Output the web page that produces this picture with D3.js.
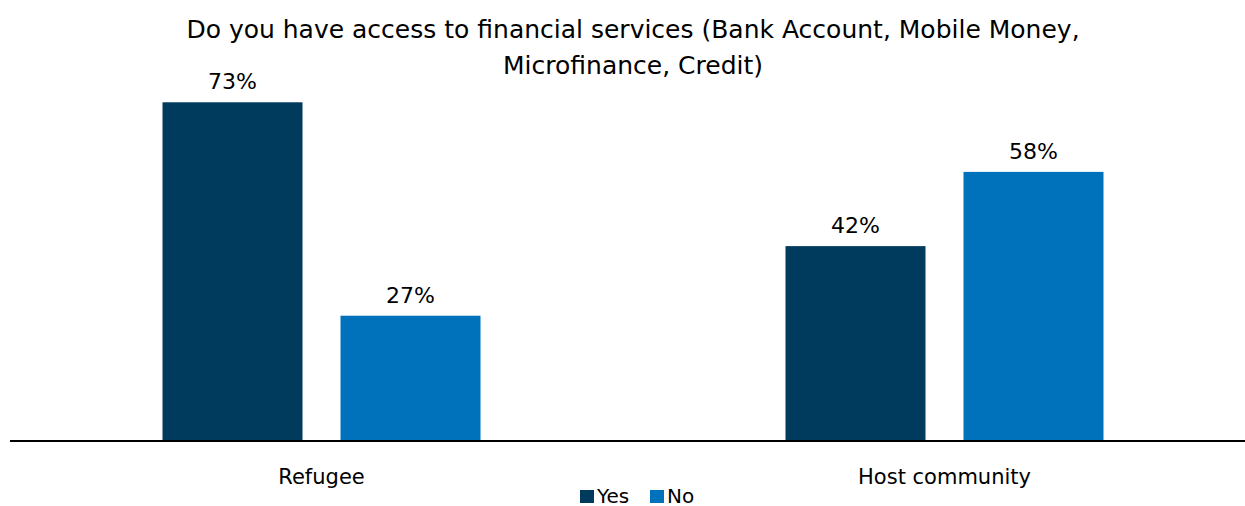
<!DOCTYPE html>
<html>
<head>
<meta charset="utf-8">
<script src="https://cdn.jsdelivr.net/npm/d3@7"></script>
<style>
  html, body { margin: 0; padding: 0; background: #fff; }
  svg { display: block; }
  text { font-family: "DejaVu Sans", sans-serif; fill: #000; }
</style>
</head>
<body>
<svg id="chart" width="1245" height="506"></svg>
<script>
const categories = ["Refugee", "Host community"];
const seriesNames = ["Yes", "No"];
const yesValues = [73, 42];
const noValues = [27, 58];
const titleLines = ["Do you have access to financial services (Bank Account, Mobile Money,", "Microfinance, Credit)"];
const seriesColors = ["#003A5D", "#0072BC"];

const baseY = 441;
const svg = d3.select("#chart");

const x0 = d3.scaleBand().domain(categories).range([10, 1256]).paddingInner(0).paddingOuter(0);
const x1 = d3.scaleBand().domain(seriesNames).range([152.5, 470.5]).paddingInner(38 / 178).paddingOuter(0);
const y = d3.scaleLinear().domain([0, 100]).range([baseY, baseY - 464]);

const rows = categories.map((c, i) => ({ cat: c, vals: [
  { s: "Yes", v: yesValues[i] }, { s: "No", v: noValues[i] }
]}));
const color = d3.scaleOrdinal().domain(seriesNames).range(seriesColors);

// title, two centred lines
svg.append("g").selectAll("text").data(titleLines).join("text")
  .attr("x", 633).attr("y", (d, i) => 38 + i * 36)
  .attr("text-anchor", "middle").attr("font-size", 25)
  .text(d => d);

const groups = svg.append("g").selectAll("g").data(rows).join("g")
  .attr("transform", d => `translate(${x0(d.cat)},0)`);

groups.selectAll("rect").data(d => d.vals).join("rect")
  .attr("x", d => x1(d.s)).attr("width", x1.bandwidth())
  .attr("y", d => y(d.v)).attr("height", d => y(0) - y(d.v))
  .attr("fill", d => color(d.s));

// value labels above each bar
groups.selectAll("text.val").data(d => d.vals).join("text")
  .attr("class", "val")
  .attr("x", d => x1(d.s) + x1.bandwidth() / 2)
  .attr("y", d => y(d.v) - 13)
  .attr("text-anchor", "middle").attr("font-size", 22)
  .text(d => d.v + "%");

// category axis along the baseline
const xAxis = svg.append("g").attr("transform", `translate(0,${baseY})`)
  .call(d3.axisBottom(x0).tickSize(0));
xAxis.select(".domain").attr("stroke", "#000").attr("stroke-width", 2).attr("d", "M10,0H1245");
xAxis.selectAll("text").attr("dy", null).attr("y", 43)
  .attr("font-size", 21).attr("font-family", "DejaVu Sans").attr("fill", "#000");

// legend
const legend = svg.append("g").attr("transform", "translate(580,488)");
const items = legend.selectAll("g").data(seriesNames).join("g")
  .attr("transform", (d, i) => `translate(${i * 70},0)`);
items.append("rect").attr("y", 2).attr("width", 14).attr("height", 13).attr("fill", d => color(d));
items.append("text").attr("x", 17).attr("y", 14.5).attr("font-size", 20).text(d => d);
</script>
</body>
</html>
